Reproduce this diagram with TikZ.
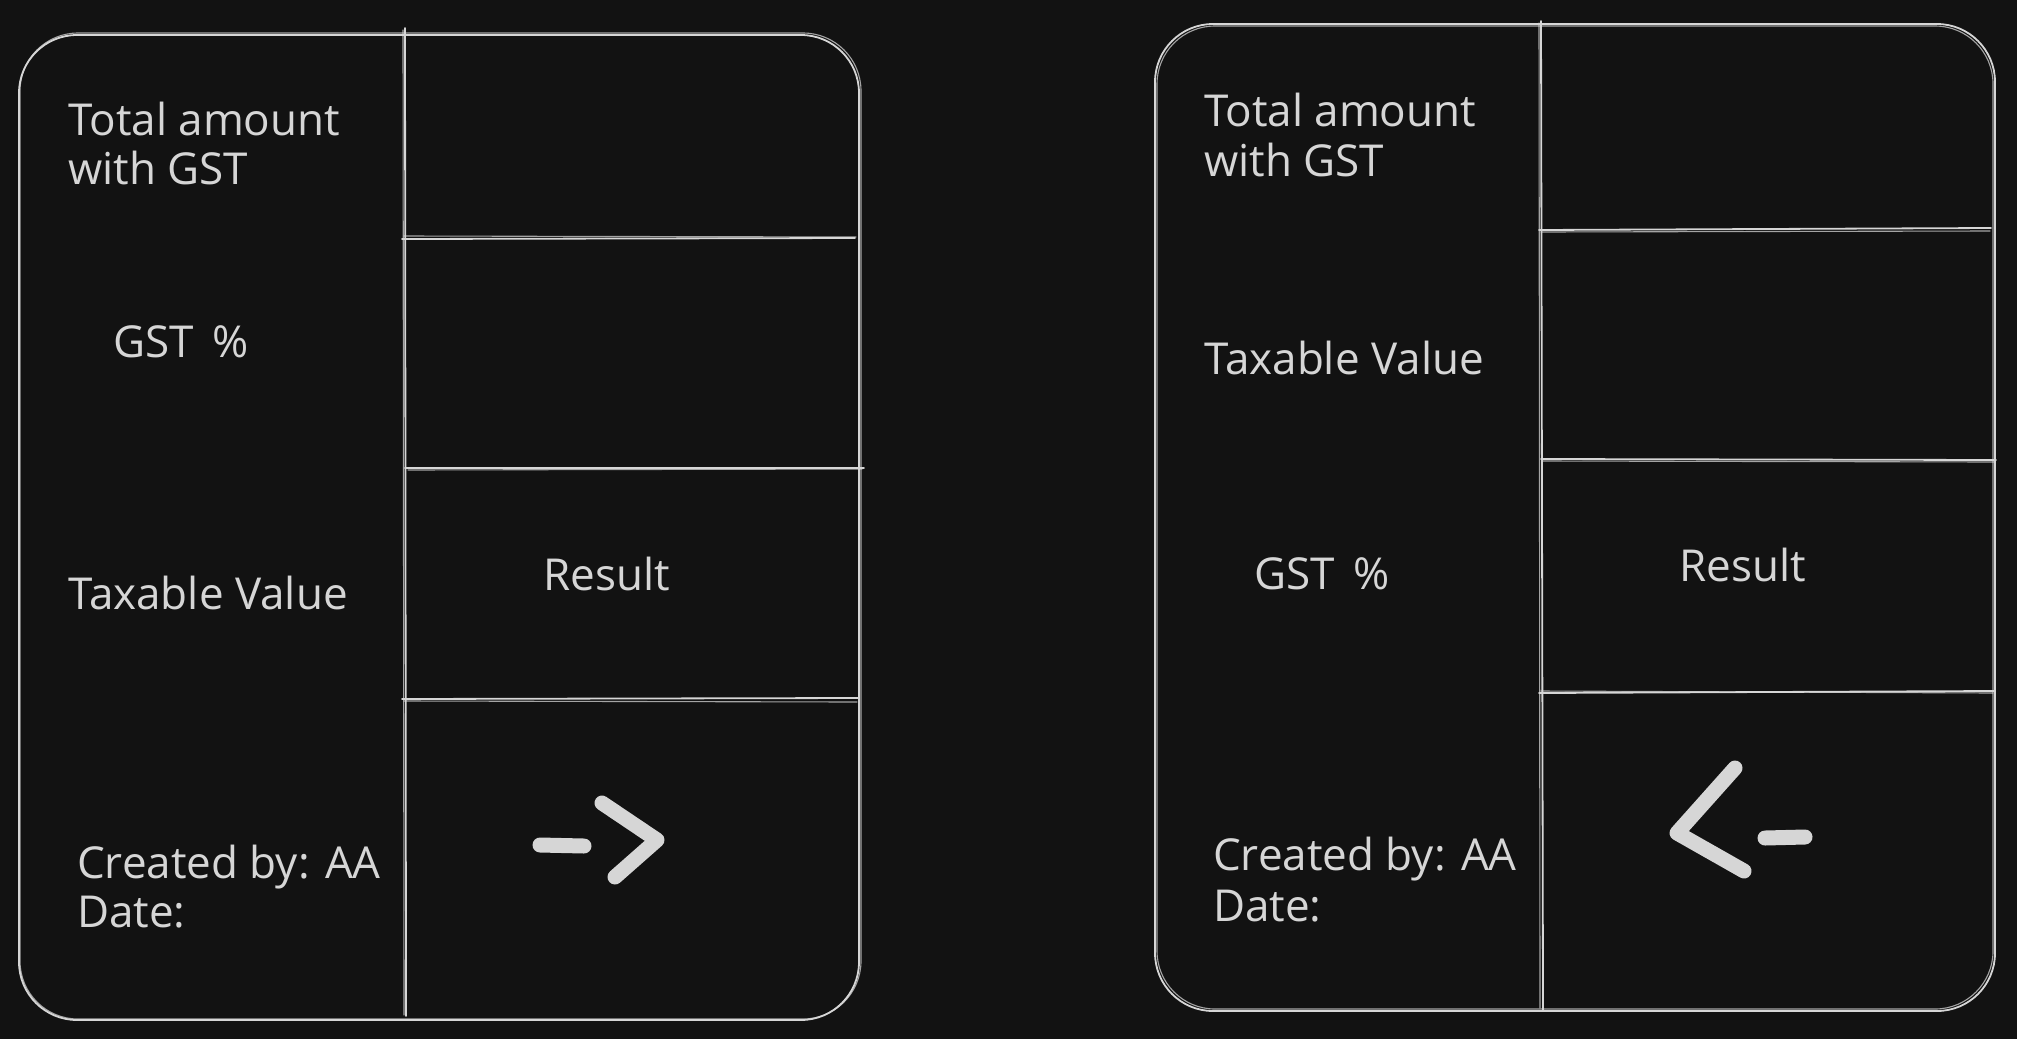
\documentclass[tikz,border=0pt]{standalone}
\usepackage{fontspec}
\setmainfont{Open Sans}
\definecolor{bgdark}{HTML}{121212}
\definecolor{inkgray}{HTML}{D6D6D6}
\tikzset{
  sketch/.style={draw=inkgray, line width=1.8pt, line cap=round},
  sketchb/.style={draw=inkgray, line width=1.1pt, line cap=round, opacity=0.75},
  frame/.style={sketch, rounded corners=58pt},
  frameb/.style={sketchb, rounded corners=58pt},
  lbl/.style={text=inkgray, inner sep=0pt, anchor=base west,
              font=\fontsize{44}{49}\selectfont},
  clbl/.style={lbl, anchor=base},
  pen/.style={draw=inkgray, line width=15pt, line cap=round, line join=round}
}
\begin{document}
\begin{tikzpicture}[x=1pt,y=-1pt]
\fill[bgdark] (0,0) rectangle (2017,1039);
\useasboundingbox (0,0) rectangle (2017,1039);

% ---------- left card ----------
\draw[frame]  (19,35) rectangle (859,1020);
\draw[frameb] (20,33) rectangle (861,1019);
\draw[sketch]  (405,28) -- (406,1016);
\draw[sketchb] (403,30) -- (404,1015);
\draw[sketch]  (402,239) -- (855,238);
\draw[sketchb] (404,236) -- (856,237);
\draw[sketch]  (405,468) -- (864,468);
\draw[sketchb] (408,470) -- (862,469);
\draw[sketch]  (402,699) -- (858,698);
\draw[sketchb] (404,701) -- (857,702);

\node[lbl] (lTotA) at (68,135) {Total amount};
\node[lbl] (lTotB) at (68,184) {with GST};
\node[lbl] (lGst)  at (113,357) {GST \,\%};
\node[lbl] (lTax)  at (68,609) {Taxable Value};
\node[clbl] (lRes) at (607,590) {Result};
\node[lbl] (lCrA)  at (77,878) {Created by: AA};
\node[lbl] (lCrB)  at (77,927) {Date:};

% forward arrow sign
\draw[pen] (540,845) -- (584,846);
\draw[pen] (602,803) -- (657,840) -- (615,877);

% ---------- right card ----------
\draw[frame]  (1155,24) rectangle (1995,1011);
\draw[frameb] (1157,26) rectangle (1993,1009);
\draw[sketch]  (1541,21) -- (1543,1010);
\draw[sketchb] (1539,23) -- (1540,1008);
\draw[sketch]  (1539,230) -- (1991,228);
\draw[sketchb] (1541,232) -- (1990,231);
\draw[sketch]  (1541,459) -- (1996,460);
\draw[sketchb] (1543,461) -- (1994,462);
\draw[sketch]  (1539,693) -- (1995,691);
\draw[sketchb] (1541,691) -- (1993,693);

\node[lbl] (rTotA) at (1204,126) {Total amount};
\node[lbl] (rTotB) at (1204,176) {with GST};
\node[lbl] (rTax)  at (1204,374) {Taxable Value};
\node[lbl] (rGst)  at (1254,589) {GST \,\%};
\node[clbl] (rRes) at (1743,581) {Result};
\node[lbl] (rCrA)  at (1213,870) {Created by: AA};
\node[lbl] (rCrB)  at (1213,921) {Date:};

% backward arrow sign
\draw[pen] (1735,768) -- (1677,833) -- (1744,871);
\draw[pen] (1765,838) -- (1805,837);
\end{tikzpicture}
\end{document}
